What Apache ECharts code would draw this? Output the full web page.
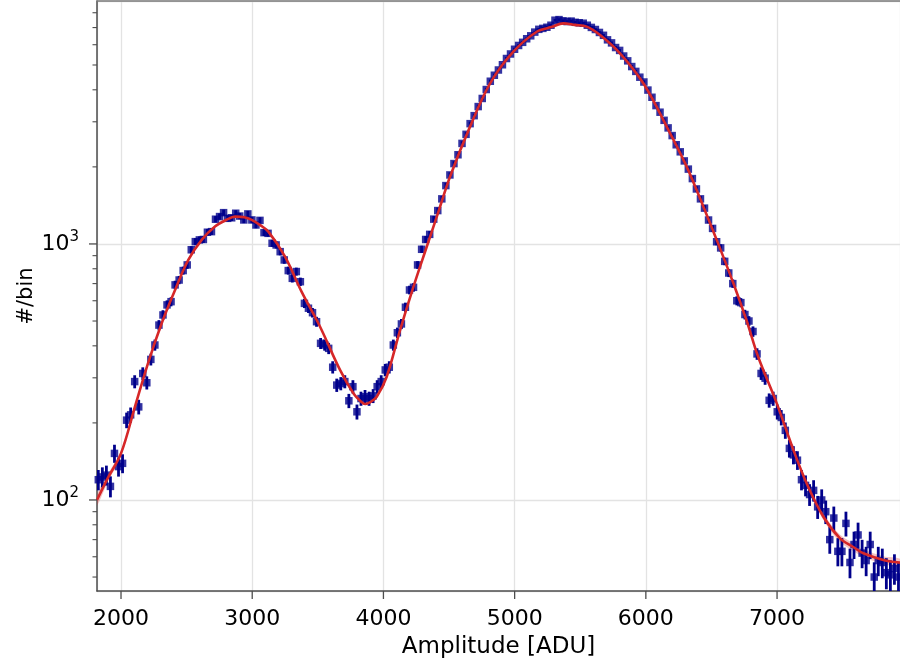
<!DOCTYPE html>
<html>
<head>
<meta charset="utf-8">
<script src="https://cdn.jsdelivr.net/npm/echarts@6/dist/echarts.min.js"></script>
<style>
  html, body { margin: 0; padding: 0; background: #ffffff; }
  #chart { width: 900px; height: 664px; }
</style>
</head>
<body>
<div id="chart"></div>
<script>
// Histogram binning of the amplitude spectrum
const binStart = 1827;
const binWidth = 30.8;

// Counts per bin (#/bin)
const counts = [
  120, 123, 125, 113, 152, 135, 139, 205, 215, 290,
  231, 312, 287, 354, 403, 482, 528, 578, 595, 692,
  723, 787, 828, 949, 1021, 1037, 1041, 1111, 1117, 1249,
  1279, 1325, 1259, 1265, 1318, 1285, 1241, 1310, 1241, 1186,
  1236, 1107, 1100, 1006, 991, 933, 866, 787, 734, 780,
  712, 586,
  561, 539, 497, 409, 403, 391, 330, 281, 285, 290,
  244, 277, 221, 249, 253, 249, 255, 277, 290, 322,
  330, 403, 450, 487, 566, 661, 677, 828, 953, 1041,
  1090, 1250, 1350, 1500, 1690, 1860, 2060, 2230, 2470, 2680,
  2950, 3170, 3440, 3700, 4010, 4320, 4560, 4780, 5010, 5300,
  5520, 5760, 5960, 6130, 6330, 6500, 6720, 6890, 6950, 7020,
  7150, 7480, 7520, 7440, 7390, 7420, 7340, 7310, 7280, 7150,
  7010, 6880, 6700, 6530, 6270, 6100, 5850, 5700, 5420, 5190,
  4930, 4720, 4480, 4290, 3990, 3740, 3470, 3270, 3040, 2840,
  2650, 2440, 2290, 2110, 1960, 1800, 1640, 1500, 1380, 1240,
  1150, 1020, 965, 855, 770, 700, 600, 590, 530, 500,
  455, 372,
  312, 299, 245, 249, 221, 210, 187, 159, 150, 143,
  120, 114, 105, 109, 94, 100, 90, 70, 85, 63,
  63, 81, 57, 67, 73, 62, 58, 67, 50, 58,
  57, 52, 51, 54, 50
];

// Fitted model, sampled along the amplitude axis
const fitX = [
  1817, 1900, 2000, 2107, 2208, 2310, 2412, 2513, 2615, 2716,
  2800, 2869, 2940, 2996, 3060, 3123, 3250, 3377, 3517, 3669,
  3771, 3830, 3860, 3900, 3949, 4025, 4127, 4229, 4330, 4420,
  4508, 4660, 4813, 4990, 5168, 5280, 5371, 5460, 5549, 5651,
  5803, 5981, 6159, 6311, 6438, 6540, 6667, 6769, 6858, 6997,
  7124, 7226, 7353, 7480, 7580, 7658, 7810, 7937
];
const fitY = [
  100, 122, 152, 232, 345, 490, 661, 866, 1037, 1169,
  1240, 1279, 1272, 1242, 1185, 1117, 892, 650, 475, 322,
  261, 242, 237, 241, 253, 303, 461, 681, 975, 1341,
  1833, 2872, 4240, 5633, 6743, 7030, 7272, 7170, 7060, 6546,
  5555, 4240, 2872, 2005, 1400, 1037, 702, 500, 360, 239,
  157, 116, 86, 70.8, 65.5, 61.9, 58.3, 56.9
];
// Relative half-width of the fit uncertainty band
const fitRelErr = [
  0.05, 0.035, 0.025, 0.018, 0.014, 0.012, 0.012, 0.012, 0.012, 0.012,
  0.012, 0.012, 0.012, 0.012, 0.012, 0.012, 0.012, 0.012, 0.012, 0.012,
  0.012, 0.012, 0.012, 0.012, 0.012, 0.012, 0.012, 0.012, 0.012, 0.012,
  0.012, 0.012, 0.012, 0.012, 0.012, 0.012, 0.012, 0.012, 0.012, 0.012,
  0.012, 0.012, 0.012, 0.012, 0.012, 0.012, 0.012, 0.012, 0.013, 0.015,
  0.018, 0.022, 0.028, 0.033, 0.035, 0.035, 0.035, 0.035
];

// Axis ranges and tick positions
const xRange = [1817, 7937];
const yRange = [44.1, 8890];
const xTicks = [2000, 3000, 4000, 5000, 6000, 7000];
const yMajorTicks = [100, 1000];
const yMinorTicks = [50, 60, 70, 80, 90, 200, 300, 400, 500, 600, 700, 800, 900,
                     2000, 3000, 4000, 5000, 6000, 7000, 8000];

const FONT = 'DejaVu Sans';
const AXIS_COLOR = '#4d4d4d';
const POINT_COLOR = '#00008b';
const FIT_COLOR = '#d62728';

const binCenters = counts.map((c, i) => binStart + i * binWidth);
const points = counts.map((c, i) => [binCenters[i], c]);
const errorBars = counts.map((c, i) => [binCenters[i], c, c - Math.sqrt(c), c + Math.sqrt(c)]);
const fitLine = fitX.map((x, i) => [x, fitY[i]]);

function isPower(v, p) { return Math.abs(v - p) / p < 1e-6; }

const chart = echarts.init(document.getElementById('chart'), null, { renderer: 'canvas' });

chart.setOption({
  animation: false,
  backgroundColor: '#ffffff',
  grid: { left: 97, right: 0, top: 1, bottom: 73, containLabel: false },
  xAxis: [{
    type: 'value',
    min: xRange[0],
    max: xRange[1],
    name: 'Amplitude [ADU]',
    nameLocation: 'middle',
    nameGap: 45,
    nameMoveOverlap: false,
    nameTextStyle: { fontFamily: FONT, fontSize: 23, color: '#000' },
    axisLine: { show: true, onZero: false, lineStyle: { color: AXIS_COLOR, width: 1.5 } },
    axisTick: { show: false },
    axisLabel: {
      fontFamily: FONT, fontSize: 22, color: '#000', margin: 17,
      showMinLabel: false, showMaxLabel: false,
      formatter: v => String(v)
    },
    splitLine: { show: true, lineStyle: { color: '#e3e3e3', width: 1.3 } }
  }, {
    type: 'value',
    position: 'top',
    min: xRange[0],
    max: xRange[1],
    axisLine: { show: true, onZero: false, lineStyle: { color: '#7a7a7a', width: 1.5 } },
    axisTick: { show: false },
    axisLabel: { show: false },
    splitLine: { show: false }
  }],
  yAxis: {
    type: 'log',
    logBase: 10,
    min: yRange[0],
    max: yRange[1],
    name: '#/bin',
    nameLocation: 'middle',
    nameGap: 60,
    nameMoveOverlap: false,
    nameTextStyle: { fontFamily: FONT, fontSize: 21, color: '#000' },
    axisLine: { show: true, lineStyle: { color: AXIS_COLOR, width: 1.5 } },
    axisTick: { show: false },
    axisLabel: {
      margin: 18,
      formatter: v => isPower(v, 100) ? '{b|10}{s|2}' : (isPower(v, 1000) ? '{b|10}{s|3}' : ''),
      rich: {
        b: { fontFamily: FONT, fontSize: 22, color: '#000' },
        s: { fontFamily: FONT, fontSize: 15, color: '#000', padding: [0, 0, 13, 0] }
      }
    },
    splitLine: { show: true, lineStyle: { color: '#e3e3e3', width: 1.3 } }
  },
  series: [
    {
      // fit uncertainty band
      type: 'custom',
      silent: true,
      clip: true,
      z: 3,
      data: [[xRange[0], yRange[0]]],
      renderItem: (params, api) => {
        const upper = fitX.map((x, i) => api.coord([x, fitY[i] * (1 + fitRelErr[i])]));
        const lower = fitX.map((x, i) => api.coord([x, fitY[i] * (1 - fitRelErr[i])])).reverse();
        return {
          type: 'polygon',
          shape: { points: upper.concat(lower), smooth: 0.3 },
          style: { fill: 'rgba(214,39,40,0.28)' }
        };
      }
    },
    {
      // Poisson error bars
      type: 'custom',
      silent: true,
      clip: true,
      z: 4,
      encode: { x: 0, y: [1, 2, 3] },
      data: errorBars,
      renderItem: (params, api) => {
        const x = api.value(0);
        const lo = api.coord([x, api.value(2)]);
        const hi = api.coord([x, api.value(3)]);
        return {
          type: 'line',
          shape: { x1: lo[0], y1: lo[1], x2: hi[0], y2: hi[1] },
          style: { stroke: POINT_COLOR, lineWidth: 2.8 }
        };
      }
    },
    {
      type: 'scatter',
      silent: true,
      z: 5,
      symbol: 'rect',
      symbolSize: 7.5,
      itemStyle: { color: POINT_COLOR },
      data: points
    },
    {
      type: 'line',
      silent: true,
      z: 6,
      smooth: 0.35,
      showSymbol: false,
      lineStyle: { color: FIT_COLOR, width: 2.6 },
      data: fitLine
    },
    {
      // x-axis ticks
      type: 'custom',
      silent: true,
      z: 7,
      data: xTicks.map(v => [v, yRange[0]]),
      renderItem: (params, api) => {
        const p = api.coord([api.value(0), yRange[0]]);
        return {
          type: 'line',
          shape: { x1: p[0], y1: p[1], x2: p[0], y2: p[1] + 8 },
          style: { stroke: AXIS_COLOR, lineWidth: 1.3 }
        };
      }
    },
    {
      // y-axis major ticks
      type: 'custom',
      silent: true,
      z: 7,
      data: yMajorTicks.map(v => [xRange[0], v]),
      renderItem: (params, api) => {
        const p = api.coord([xRange[0], api.value(1)]);
        return {
          type: 'line',
          shape: { x1: p[0] - 8, y1: p[1], x2: p[0], y2: p[1] },
          style: { stroke: AXIS_COLOR, lineWidth: 1.3 }
        };
      }
    },
    {
      // y-axis minor ticks
      type: 'custom',
      silent: true,
      z: 7,
      data: yMinorTicks.map(v => [xRange[0], v]),
      renderItem: (params, api) => {
        const p = api.coord([xRange[0], api.value(1)]);
        return {
          type: 'line',
          shape: { x1: p[0] - 4.5, y1: p[1], x2: p[0], y2: p[1] },
          style: { stroke: AXIS_COLOR, lineWidth: 1.1 }
        };
      }
    }
  ]
});
</script>
</body>
</html>
